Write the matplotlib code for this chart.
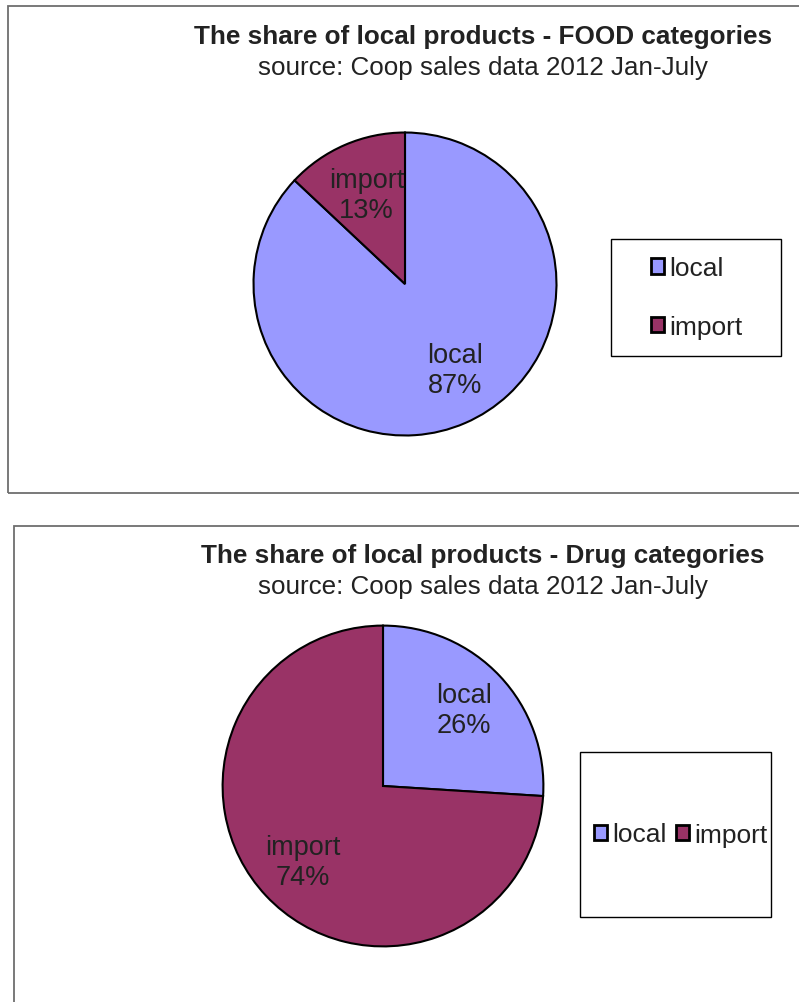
import matplotlib
matplotlib.use('Agg')
import matplotlib.pyplot as plt
from matplotlib.patches import Rectangle

# --- Data ---
labels = ['local', 'import']
food_share = [87, 13]
drug_share = [26, 74]

titles = ['The share of local products - FOOD categories',
          'The share of local products - Drug categories']
subtitle = 'source: Coop sales data 2012 Jan-July'

colors = ['#9999FF', '#993366']
text_color = '#222222'

W, H = 799, 1003
plt.rcParams['font.family'] = ['Liberation Sans', 'DejaVu Sans']

fig = plt.figure(figsize=(W / 100, H / 100), dpi=100)


def px_box(x0, y0, x1, y1):
    # pixel box (top-left origin) -> figure fraction rect
    return [x0 / W, 1 - y1 / H, (x1 - x0) / W, (y1 - y0) / H]


def draw_chart(cx, cy, r, values, title, title_y, frame, legend_box, legend_x, ncol, pctdist):
    # outer frame
    fx0, fy0, fx1, fy1 = frame
    fig.patches.append(Rectangle((fx0 / W, 1 - fy1 / H), (fx1 - fx0) / W, (fy1 - fy0) / H,
                                 transform=fig.transFigure, fill=False,
                                 edgecolor='#6e6e6e', linewidth=1.3))
    # titles
    fig.text(483 / W, 1 - title_y / H, title, ha='center', va='center',
             fontsize=18.8, fontweight='bold', color=text_color)
    fig.text(483 / W, 1 - (title_y + 31) / H, subtitle, ha='center', va='center',
             fontsize=18.7, color=text_color)

    ax = fig.add_axes(px_box(cx - r, cy - r, cx + r, cy + r))
    wedges, _, autotexts = ax.pie(values, colors=colors, startangle=90, counterclock=False,
                                  autopct='%1.0f%%', pctdistance=pctdist,
                                  wedgeprops=dict(edgecolor='black', linewidth=1.5),
                                  textprops=dict(fontsize=19.5, color=text_color))
    for lab, t in zip(labels, autotexts):
        t.set_text(lab + '\n' + t.get_text())
        t.set_linespacing(1.2)
    ax.set_xlim(-1.01, 1.01)
    ax.set_ylim(-1.01, 1.01)
    ax.set_aspect('equal')
    ax.axis('off')

    # legend box
    lx0, ly0, lx1, ly1 = legend_box
    fig.patches.append(Rectangle((lx0 / W, 1 - ly1 / H), (lx1 - lx0) / W, (ly1 - ly0) / H,
                                 transform=fig.transFigure, fill=False,
                                 edgecolor='black', linewidth=1.0))
    leg = fig.legend(wedges, labels, loc='center',
                     bbox_to_anchor=(legend_x / W, 1 - (ly0 + ly1) / 2 / H),
                     ncol=ncol, frameon=False, fontsize=19,
                     handlelength=0.5, handleheight=0.5, handletextpad=0.2,
                     labelspacing=1.3, columnspacing=0.35, borderpad=0)
    for t in leg.get_texts():
        t.set_color(text_color)
    for h in leg.legend_handles:
        h.set_linewidth(2.0)
    return autotexts


top_texts = draw_chart(405, 285, 153, food_share, titles[0], 37,
                       (8, 7, 830, 494), (611, 240, 781, 357), 697, 1, 0.64)
# the local label in the food chart sits a little right of the wedge middle
top_texts[0].set_position((0.33, -0.57))
draw_chart(383, 787, 162, drug_share, titles[1], 556,
           (14, 527, 830, 1040), (580, 753, 771, 918), 681, 2, 0.69)

fig.savefig('out.png', dpi=100, facecolor='white')
